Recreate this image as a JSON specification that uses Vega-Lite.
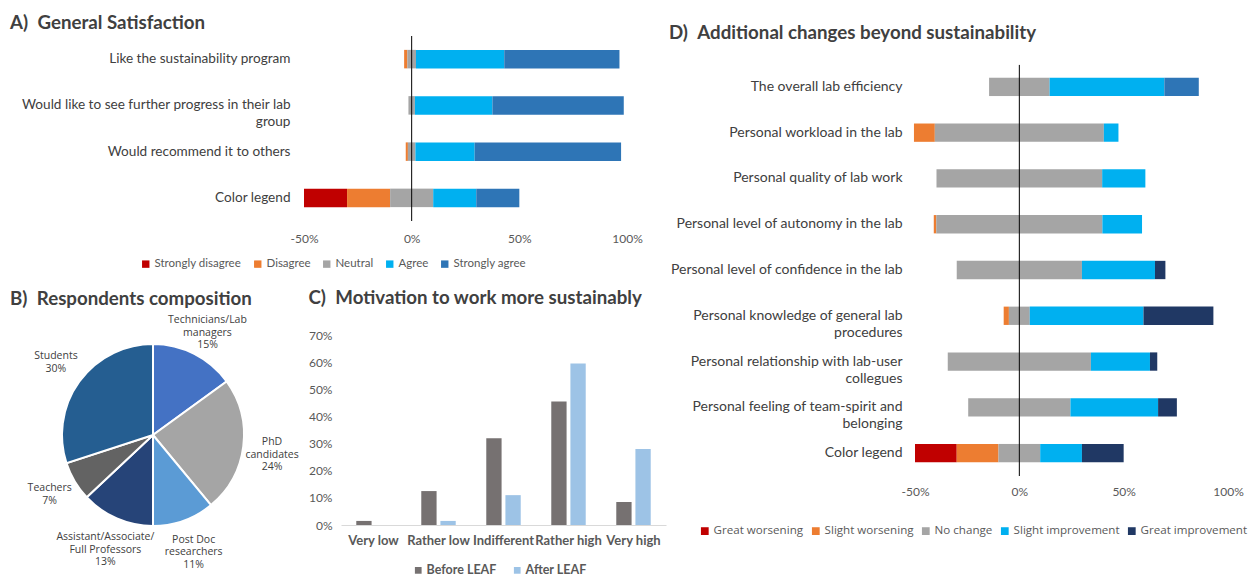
{
  "$schema": "https://vega.github.io/schema/vega-lite/v6.json",
  "background": "white",
  "padding": {"left": 10, "top": 13, "right": 0, "bottom": 0},
  "config": {
    "font": "Lato",
    "view": {"stroke": null},
    "title": {"font": "Lato", "fontSize": 18.7, "fontWeight": "bold", "color": "#404040", "anchor": "start", "frame": "bounds"},
    "axis": {"grid": false, "ticks": false, "domain": false, "title": null, "labelFont": "Lato", "labelColor": "#595959"},
    "legend": {"labelFont": "Lato", "labelColor": "#595959", "symbolType": "square", "symbolStrokeWidth": 0, "title": null, "orient": "none", "direction": "horizontal"}
  },
  "datasets": {
    "satisfaction": [
      {"item": "Like the sustainability program", "response": "Disagree", "pct": -1.5},
      {"item": "Like the sustainability program", "response": "Neutral", "pct": -2},
      {"item": "Like the sustainability program", "response": "Neutral", "pct": 2},
      {"item": "Like the sustainability program", "response": "Agree", "pct": 41},
      {"item": "Like the sustainability program", "response": "Strongly agree", "pct": 53.5},
      {"item": "Would like to see further progress in their lab\ngroup", "response": "Neutral", "pct": -1.5},
      {"item": "Would like to see further progress in their lab\ngroup", "response": "Neutral", "pct": 1.5},
      {"item": "Would like to see further progress in their lab\ngroup", "response": "Agree", "pct": 36},
      {"item": "Would like to see further progress in their lab\ngroup", "response": "Strongly agree", "pct": 61},
      {"item": "Would recommend it to others", "response": "Disagree", "pct": -1},
      {"item": "Would recommend it to others", "response": "Neutral", "pct": -1.75},
      {"item": "Would recommend it to others", "response": "Neutral", "pct": 1.75},
      {"item": "Would recommend it to others", "response": "Agree", "pct": 27.5},
      {"item": "Would recommend it to others", "response": "Strongly agree", "pct": 68},
      {"item": "Color legend", "response": "Strongly disagree", "pct": -20},
      {"item": "Color legend", "response": "Disagree", "pct": -20},
      {"item": "Color legend", "response": "Neutral", "pct": -10},
      {"item": "Color legend", "response": "Neutral", "pct": 10},
      {"item": "Color legend", "response": "Agree", "pct": 20},
      {"item": "Color legend", "response": "Strongly agree", "pct": 20}
    ],
    "roles": [
      {"role": "Technicians/Lab\nmanagers", "share": 0.15},
      {"role": "PhD\ncandidates", "share": 0.24},
      {"role": "Post Doc\nresearchers", "share": 0.11},
      {"role": "Assistant/Associate/\nFull Professors", "share": 0.13},
      {"role": "Teachers", "share": 0.07},
      {"role": "Students", "share": 0.30}
    ],
    "motivation": [
      {"level": "Very low", "period": "Before LEAF", "share": 1.5},
      {"level": "Very low", "period": "After LEAF", "share": 0},
      {"level": "Rather low", "period": "Before LEAF", "share": 12.5},
      {"level": "Rather low", "period": "After LEAF", "share": 1.5},
      {"level": "Indifferent", "period": "Before LEAF", "share": 32},
      {"level": "Indifferent", "period": "After LEAF", "share": 11},
      {"level": "Rather high", "period": "Before LEAF", "share": 45.5},
      {"level": "Rather high", "period": "After LEAF", "share": 59.5},
      {"level": "Very high", "period": "Before LEAF", "share": 8.5},
      {"level": "Very high", "period": "After LEAF", "share": 28}
    ],
    "changes": [
      {"item": "The overall lab efficiency", "change": "No change", "pct": -14.5},
      {"item": "The overall lab efficiency", "change": "No change", "pct": 14.5},
      {"item": "The overall lab efficiency", "change": "Slight improvement", "pct": 55},
      {"item": "The overall lab efficiency", "change": "Great improvement", "pct": 16.5},
      {"item": "Personal workload in the lab", "change": "Slight worsening", "pct": -10},
      {"item": "Personal workload in the lab", "change": "No change", "pct": -40.5},
      {"item": "Personal workload in the lab", "change": "No change", "pct": 40.5},
      {"item": "Personal workload in the lab", "change": "Slight improvement", "pct": 7},
      {"item": "Personal quality of lab work", "change": "No change", "pct": -39.7},
      {"item": "Personal quality of lab work", "change": "No change", "pct": 39.7},
      {"item": "Personal quality of lab work", "change": "Slight improvement", "pct": 20.7},
      {"item": "Personal level of autonomy in the lab", "change": "Slight worsening", "pct": -1.2},
      {"item": "Personal level of autonomy in the lab", "change": "No change", "pct": -39.8},
      {"item": "Personal level of autonomy in the lab", "change": "No change", "pct": 39.8},
      {"item": "Personal level of autonomy in the lab", "change": "Slight improvement", "pct": 19},
      {"item": "Personal level of confidence in the lab", "change": "No change", "pct": -30},
      {"item": "Personal level of confidence in the lab", "change": "No change", "pct": 30},
      {"item": "Personal level of confidence in the lab", "change": "Slight improvement", "pct": 35},
      {"item": "Personal level of confidence in the lab", "change": "Great improvement", "pct": 5},
      {"item": "Personal knowledge of general lab\nprocedures", "change": "Slight worsening", "pct": -2.5},
      {"item": "Personal knowledge of general lab\nprocedures", "change": "No change", "pct": -5},
      {"item": "Personal knowledge of general lab\nprocedures", "change": "No change", "pct": 5},
      {"item": "Personal knowledge of general lab\nprocedures", "change": "Slight improvement", "pct": 54.5},
      {"item": "Personal knowledge of general lab\nprocedures", "change": "Great improvement", "pct": 33.5},
      {"item": "Personal relationship with lab-user\ncollegues", "change": "No change", "pct": -34.3},
      {"item": "Personal relationship with lab-user\ncollegues", "change": "No change", "pct": 34.3},
      {"item": "Personal relationship with lab-user\ncollegues", "change": "Slight improvement", "pct": 28.3},
      {"item": "Personal relationship with lab-user\ncollegues", "change": "Great improvement", "pct": 3.5},
      {"item": "Personal feeling of team-spirit and\nbelonging", "change": "No change", "pct": -24.5},
      {"item": "Personal feeling of team-spirit and\nbelonging", "change": "No change", "pct": 24.5},
      {"item": "Personal feeling of team-spirit and\nbelonging", "change": "Slight improvement", "pct": 42},
      {"item": "Personal feeling of team-spirit and\nbelonging", "change": "Great improvement", "pct": 9},
      {"item": "Color legend", "change": "Great worsening", "pct": -20},
      {"item": "Color legend", "change": "Slight worsening", "pct": -20},
      {"item": "Color legend", "change": "No change", "pct": -10},
      {"item": "Color legend", "change": "No change", "pct": 10},
      {"item": "Color legend", "change": "Slight improvement", "pct": 20},
      {"item": "Color legend", "change": "Great improvement", "pct": 20}
    ]
  },
  "columns": 2,
  "spacing": 3,
  "align": "none",
  "resolve": {"scale": {"x": "independent", "y": "independent", "color": "independent"}, "legend": {"color": "independent"}},
  "concat": [
    {
      "columns": 1,
      "spacing": 19,
      "align": "none",
      "resolve": {"scale": {"x": "independent", "y": "independent", "color": "independent"}, "legend": {"color": "independent"}},
      "concat": [
        {
          "title": {"text": "A)\u2002General Satisfaction", "offset": 3},
          "width": 617,
          "height": 185,
          "data": {"name": "satisfaction"},
          "transform": [
            {"calculate": "indexof(['Neutral', 'Disagree', 'Agree', 'Strongly disagree', 'Strongly agree'], datum.response)", "as": "stackRank"}
          ],
          "layer": [
            {
              "mark": {"type": "bar"},
              "encoding": {
                "y": {
                  "field": "item", "type": "nominal", "sort": null,
                  "scale": {"paddingInner": 0.6, "paddingOuter": 0.3},
                  "axis": {"offset": -294, "labelExpr": "split(datum.label, '\\n')", "labelFontSize": 13.6, "labelColor": "#404040", "labelPadding": 14, "labelLimit": 400, "labelLineHeight": 17}
                },
                "x": {
                  "field": "pct", "type": "quantitative", "stack": "zero",
                  "scale": {"domain": [-50, 100], "range": [294, 617], "nice": false, "zero": false},
                  "axis": {"values": [-50, 0, 50, 100], "labelExpr": "datum.value + '%'", "labelFlush": false, "labelFontSize": 12, "labelPadding": 12}
                },
                "order": {"field": "stackRank", "type": "quantitative"},
                "color": {
                  "field": "response", "type": "nominal",
                  "scale": {"domain": ["Strongly disagree", "Disagree", "Neutral", "Agree", "Strongly agree"], "range": ["#C00000", "#ED7D31", "#A5A5A5", "#00B0F0", "#2E75B6"]},
                  "legend": {"legendX": 130, "legendY": 222, "labelFontSize": 11.5, "symbolSize": 55, "columnPadding": 10, "labelOffset": 3}
                }
              }
            },
            {
              "data": {"values": [{}]},
              "mark": {"type": "rule", "color": "black", "strokeWidth": 1},
              "encoding": {"x": {"datum": 0}}
            }
          ]
        },
        {
          "columns": 2,
          "spacing": 9,
          "align": "none",
          "resolve": {"scale": {"x": "independent", "y": "independent", "color": "independent"}, "legend": {"color": "independent"}},
          "concat": [
            {
              "title": {"text": "B)\u2002Respondents composition", "offset": 6},
              "width": 286,
              "height": 200,
              "data": {"name": "roles"},
              "transform": [
                {"calculate": "datum.role + '\\n' + format(datum.share, '.0%')", "as": "label"},
                {"calculate": "indexof(['Technicians/Lab\\nmanagers', 'PhD\\ncandidates', 'Post Doc\\nresearchers', 'Assistant/Associate/\\nFull Professors', 'Teachers', 'Students'], datum.role)", "as": "slice"}
              ],
              "encoding": {
                "theta": {"field": "share", "type": "quantitative", "stack": true},
                "order": {"field": "slice", "type": "quantitative"}
              },
              "layer": [
                {
                  "mark": {"type": "arc", "outerRadius": 91, "stroke": "white", "strokeWidth": 2},
                  "encoding": {
                    "color": {
                      "field": "role", "type": "nominal",
                      "scale": {
                        "domain": ["Technicians/Lab\nmanagers", "PhD\ncandidates", "Post Doc\nresearchers", "Assistant/Associate/\nFull Professors", "Teachers", "Students"],
                        "range": ["#4472C4", "#A5A5A5", "#5B9BD5", "#264478", "#636363", "#255E91"]
                      },
                      "legend": null
                    }
                  }
                },
                {
                  "mark": {"type": "text", "radius": 120, "dy": -8, "font": "Open Sans", "fontSize": 10.5, "color": "#404040", "lineBreak": "\n", "lineHeight": 12.5},
                  "encoding": {"text": {"field": "label", "type": "nominal"}}
                }
              ]
            },
            {
              "title": {"text": "C)\u2002Motivation to work more sustainably", "offset": 21},
              "width": 325,
              "height": 190,
              "data": {"name": "motivation"},
              "mark": {"type": "bar"},
              "encoding": {
                "x": {
                  "field": "level", "type": "nominal", "sort": null,
                  "scale": {"paddingInner": 0.47, "paddingOuter": 0.235},
                  "axis": {"labelAngle": 0, "domain": true, "domainColor": "#D9D9D9", "labelFontSize": 13, "labelFontWeight": "bold", "labelColor": "#595959", "labelPadding": 9}
                },
                "xOffset": {"field": "period", "type": "nominal", "sort": null, "scale": {"paddingInner": 0.2, "paddingOuter": 0}},
                "y": {
                  "field": "share", "type": "quantitative", "stack": null,
                  "scale": {"domain": [0, 70], "nice": false},
                  "axis": {"values": [0, 10, 20, 30, 40, 50, 60, 70], "labelExpr": "datum.value + '%'", "labelFontSize": 12, "labelPadding": 9, "minExtent": 32, "maxExtent": 32}
                },
                "color": {
                  "field": "period", "type": "nominal", "sort": null,
                  "scale": {"domain": ["Before LEAF", "After LEAF"], "range": ["#767171", "#9DC3E6"]},
                  "legend": {"legendX": 71, "legendY": 229, "labelFontSize": 12.5, "labelFontWeight": "bold", "labelColor": "#595959", "symbolSize": 45, "columnPadding": 14, "labelOffset": 2}
                }
              }
            }
          ]
        }
      ]
    },
    {
      "title": {"text": "D)\u2002Additional changes beyond sustainability", "offset": -7},
      "width": 313,
      "height": 440,
      "data": {"name": "changes"},
      "transform": [
        {"calculate": "indexof(['No change', 'Slight worsening', 'Slight improvement', 'Great worsening', 'Great improvement'], datum.change)", "as": "stackRank"}
      ],
      "layer": [
        {
          "mark": {"type": "bar"},
          "encoding": {
            "y": {
              "field": "item", "type": "nominal", "sort": null,
              "scale": {"range": [28, 440], "paddingInner": 0.6, "paddingOuter": 0.3},
              "axis": {"labelExpr": "split(datum.label, '\\n')", "labelFontSize": 14, "labelColor": "#404040", "labelPadding": 13, "labelLimit": 400, "labelLineHeight": 17, "minExtent": 246, "maxExtent": 246}
            },
            "x": {
              "field": "pct", "type": "quantitative", "stack": "zero",
              "scale": {"domain": [-50, 100], "nice": false, "zero": false},
              "axis": {"values": [-50, 0, 50, 100], "labelExpr": "datum.value + '%'", "labelFlush": false, "labelFontSize": 12, "labelPadding": 10}
            },
            "order": {"field": "stackRank", "type": "quantitative"},
            "color": {
              "condition": {"test": "datum.item === 'The overall lab efficiency' && datum.change === 'Great improvement'", "value": "#2E75B6"},
              "field": "change", "type": "nominal",
              "scale": {"domain": ["Great worsening", "Slight worsening", "No change", "Slight improvement", "Great improvement"], "range": ["#C00000", "#ED7D31", "#A5A5A5", "#00B0F0", "#203864"]},
              "legend": {"legendX": -216, "legendY": 489, "labelFont": "Open Sans", "labelFontSize": 11.6, "symbolSize": 60, "columnPadding": 6, "labelOffset": 3}
            }
          }
        },
        {
          "data": {"values": [{}]},
          "mark": {"type": "rule", "color": "black", "strokeWidth": 1},
          "encoding": {
            "x": {"datum": 0},
            "y": {"datum": "The overall lab efficiency", "bandPosition": -0.7},
            "y2": {"datum": "Color legend", "bandPosition": 1.75}
          }
        }
      ]
    }
  ]
}
